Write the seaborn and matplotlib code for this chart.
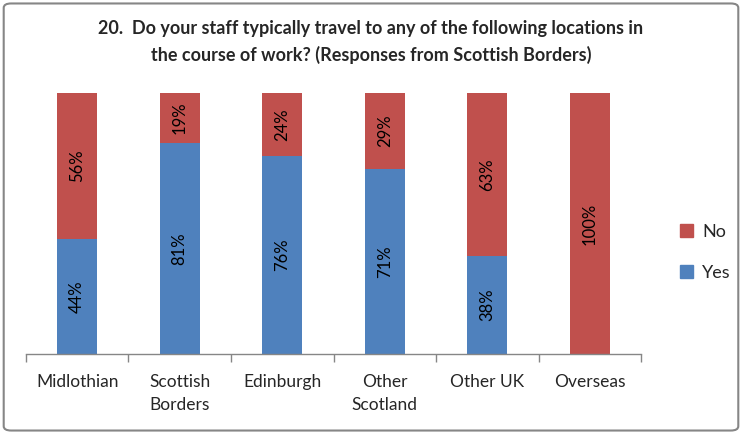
import numpy as np
import pandas as pd
import matplotlib
matplotlib.use("Agg")
import matplotlib.pyplot as plt
from matplotlib.patches import FancyBboxPatch, Patch
import seaborn as sns

# data
locations = ["Midlothian", "Scottish\nBorders", "Edinburgh", "Other\nScotland", "Other UK", "Overseas"]
yes_pct = [44, 81, 76, 71, 38, 0]
no_pct = [56, 19, 24, 29, 63, 100]

blue = "#4F81BD"
red = "#C0504D"

sns.set_theme(style="white")
plt.rcParams["font.family"] = ["Lato", "DejaVu Sans"]

df = pd.DataFrame({"location": locations, "yes": yes_pct, "no": no_pct})
df["total"] = df["yes"] + df["no"]
df["yes_frac"] = df["yes"] / df["total"]
df["all"] = 1.0

fig = plt.figure(figsize=(7.42, 4.34), dpi=100)
ax = fig.add_axes([0.035, 0.184, 0.829, 0.602])

sns.barplot(data=df, x="location", y="all", color=red, width=0.39,
            saturation=1, linewidth=0, ax=ax)
sns.barplot(data=df, x="location", y="yes_frac", color=blue, width=0.39,
            saturation=1, linewidth=0, ax=ax)

# labels inside segments
for i, row in df.iterrows():
    if row["yes"] > 0:
        ax.text(i, row["yes_frac"] / 2, f"{row['yes']}%", rotation=90,
                ha="center", va="center", fontsize=12, color="black")
    if row["no"] > 0:
        ax.text(i, row["yes_frac"] + (1 - row["yes_frac"]) / 2, f"{row['no']}%",
                rotation=90, ha="center", va="center", fontsize=12, color="black")

ax.set_xlim(-0.5, len(locations) - 0.5)
ax.set_ylim(0, 1)
ax.set_xlabel("")
ax.set_ylabel("")
ax.set_yticks([])
for s in ["top", "right", "left"]:
    ax.spines[s].set_visible(False)
ax.spines["bottom"].set_color("#868686")
ax.spines["bottom"].set_linewidth(1)

ax.set_xticks(np.arange(-0.5, len(locations)), minor=True)
ax.tick_params(axis="x", which="minor", bottom=True, length=6, color="#868686", width=1)
ax.tick_params(axis="x", which="major", bottom=False, length=0, pad=14, labelsize=12)
ax.set_xticks(range(len(locations)))
ax.set_xticklabels(locations, fontsize=12.5, linespacing=1.55)

fig.text(0.5, 0.903, "20.  Do your staff typically travel to any of the following locations in\nthe course of work? (Responses from Scottish Borders)",
         ha="center", va="center", fontsize=13, fontweight="bold", linespacing=1.55)

handles = [Patch(color=red, label="No"), Patch(color=blue, label="Yes")]
fig.legend(handles=handles, loc="center left", bbox_to_anchor=(0.895, 0.419),
           frameon=False, fontsize=13, handlelength=0.7, handleheight=0.7,
           handletextpad=0.5, labelspacing=1.4)

border = FancyBboxPatch((0.005, 0.008), 0.99, 0.984, boxstyle="round,pad=0,rounding_size=0.01",
                        transform=fig.transFigure, fill=False, edgecolor="#868686", linewidth=1.5)
fig.patches.append(border)

fig.savefig("out.png", dpi=100)
